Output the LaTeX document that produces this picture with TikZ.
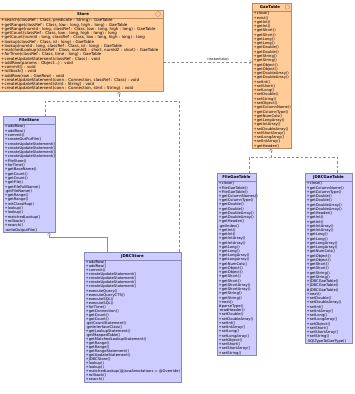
\documentclass[tikz,border=0pt]{standalone}
\usepackage{fontspec}
\setmainfont{DejaVu Sans}
\usetikzlibrary{arrows.meta}
\definecolor{ofill}{RGB}{255,204,153}
\definecolor{odraw}{RGB}{185,140,95}
\definecolor{bfill}{RGB}{204,204,255}
\definecolor{bdraw}{RGB}{135,135,185}
\definecolor{conn}{RGB}{140,140,140}
\tikzset{
 box/.style={draw, line width=0.45pt, inner sep=0pt, outer sep=0pt, anchor=north west},
 obox/.style={box, fill=ofill, draw=odraw},
 bbox/.style={box, fill=bfill, draw=bdraw},
 ttl/.style={font=\fontsize{3.9}{4}\selectfont\bfseries, inner sep=0pt},
 body/.style={font=\fontsize{3.7}{4.22}\selectfont, align=left, anchor=north west, inner sep=0pt},
 real/.style={draw=conn, line width=0.45pt, dash pattern=on 2.5pt off 2pt},
 inh/.style={draw=conn, line width=0.45pt},
 tri/.style={-{Triangle[open, length=3.2pt, width=3.6pt, fill=white]}},
 dep/.style={-{Straight Barb[length=2.2pt, width=3.4pt]}},
 icon/.style={draw=conn, line width=0.35pt},
}
\begin{document}
\begin{tikzpicture}[x=1pt,y=-1pt]
\useasboundingbox[fill=white] (0,0) rectangle (355,394);

% ---------- Store ----------
\node[obox, minimum width=164pt, minimum height=81pt] (store) at (-1,10) {};
\draw[odraw, line width=0.45pt] ([yshift=-8pt]store.north west) -- ([yshift=-8pt]store.north east);
\node[ttl] (storeT) at (83,14) {Store};
\draw[icon] (158,14) circle (2.5pt);
\node[body, font=\fontsize{4.0}{4.24}\selectfont] (storeB) at (1,18.7) {%
+search(classRef : Class, predicate : String) : GaeTable\\
+getRange(classRef : Class, low : long, high : long) : GaeTable\\
+getRange(numId : long, classRef : Class, low : long, high : long) : GaeTable\\
+getCount(classRef : Class, low : long, high : long) : long\\
+getCount(numId : long, classRef : Class, low : long, high : long) : long\\
+lookup(classRef : Class, id : long) : GaeTable\\
+lookup(numId : long, classRef : Class, id : long) : GaeTable\\
+matchedLookup(classRef : Class, numId1 : short, numId2 : short) : GaeTable\\
+forTime(classRef : Class, time : long) : GaeTable\\
+createUpdateStatement(classRef : Class) : void\\
+addRow(params : Object...) : void\\
+commit() : void\\
+rollback() : void\\
+addRow(row : GaeRow) : void\\
+createUpdateStatement(conn : Connection, classRef : Class) : void\\
+createUpdateStatement(stmt : String) : void\\
+createUpdateStatement(conn : Connection, stmt : String) : void};

% ---------- GaeTable ----------
\node[obox, minimum width=39pt, minimum height=145pt] (gae) at (252,3) {};
\draw[odraw, line width=0.45pt] ([yshift=-8pt]gae.north west) -- ([yshift=-8pt]gae.north east);
\node[ttl] (gaeT) at (270,7) {GaeTable};
\draw[icon] (287.3,7) circle (2.3pt);
\node[body, font=\fontsize{3.7}{4.27}\selectfont] (gaeB) at (253.5,11.8) {%
+close()\\ +exist()\\ +getInt()\\ +getInt()\\ +getShort()\\ +getShort()\\
+getLong()\\ +getLong()\\ +getDouble()\\ +getDouble()\\ +getString()\\
+getString()\\ +getObject()\\ +getObject()\\ +getDoubleArray()\\
+getDoubleArray()\\ +setInt()\\ +setShort()\\ +setLong()\\ +setDouble()\\
+setString()\\ +setObject()\\ +getColumnName()\\ +getColumnType()\\
+getNumCols()\\ +getLongArray()\\ +getIntArray()\\ +setDoubleArray()\\
+setShortArray()\\ +setLongArray()\\ +setIntArray()\\ +getHeader()};

% ---------- FileStore ----------
\node[bbox, minimum width=52pt, minimum height=116pt] (fs) at (3,116) {};
\draw[bdraw, line width=0.45pt] ([yshift=-8pt]fs.north west) -- ([yshift=-8pt]fs.north east);
\node[ttl] (fsT) at (29,120) {FileStore};
\node[body, font=\fontsize{3.7}{4.3}\selectfont] (fsB) at (4.5,124.8) {%
+addRow()\\ +addRow()\\ +commit()\\ +createOutPutFile()\\
+createUpdateStatement()\\ +createUpdateStatement()\\
+createUpdateStatement()\\ +createUpdateStatement()\\
+FileStore()\\ +forTime()\\ +getBaseName()\\ +getCount()\\ +getCount()\\
+getFile()\\ +getFileFullName()\\ -getFileName()\\ +getRange()\\
+getRange()\\ +initClassMap()\\ +lookup()\\ +lookup()\\
+matchedLookup()\\ +rollback()\\ +search()\\ -writeOutputFile()};

% ---------- JDBCStore ----------
\node[bbox, minimum width=97pt, minimum height=130pt] (jdbc) at (84,252) {};
\draw[bdraw, line width=0.45pt] ([yshift=-8pt]jdbc.north west) -- ([yshift=-8pt]jdbc.north east);
\node[ttl] (jdbcT) at (132.5,256) {JDBCStore};
\node[body, font=\fontsize{3.7}{4.03}\selectfont] (jdbcB) at (85.5,260.8) {%
+addRow()\\ +addRow()\\ +commit()\\ +createUpdateStatement()\\
+createUpdateStatement()\\ +createUpdateStatement()\\
+createUpdateStatement()\\ +executeQuery()\\ +executeQueryCTS()\\
+executeSQL()\\ +executeSQL()\\ +forTime()\\ +getConnection()\\
+getCount()\\ +getCount()\\ -getCountStatement()\\ -getInterfaceClass()\\
+getLookupStatement()\\ -getMappedTable()\\ +getMatchedLookupStatement()\\
+getRange()\\ +getRange()\\ +getRangeStatement()\\ +getUpdateStatement()\\
+JDBCStore()\\ +lookup()\\ +lookup()\\
+matchedLookup(@javaAnnotations = @Override)\\ +rollback()\\ +search()};

% ---------- FileGaeTable ----------
\node[bbox, minimum width=39pt, minimum height=182pt] (fgt) at (217,173) {};
\draw[bdraw, line width=0.45pt] ([yshift=-8pt]fgt.north west) -- ([yshift=-8pt]fgt.north east);
\node[ttl] (fgtT) at (236.5,177) {FileGaeTable};
\node[body, font=\fontsize{3.7}{4.23}\selectfont] (fgtB) at (218.5,181.8) {%
+close()\\ +FileGaeTable()\\ +FileGaeTable()\\ +getColumnNames()\\
+getColumnType()\\ +getDouble()\\ +getDouble()\\ +getDoubleArray()\\
+getDoubleArray()\\ +getHeader()\\ -getIndex()\\ +getInt()\\ +getInt()\\
+getIntArray()\\ +getIntArray()\\ +getLong()\\ +getLong()\\
+getLongArray()\\ +getLongArray()\\ +getNumCols()\\ +getObject()\\
+getObject()\\ +getShort()\\ +getShort()\\ +getShortArray()\\
+getShortArray()\\ +getString()\\ +getString()\\ +next()\\ \#parseType()\\
-readHeader()\\ +setDouble()\\ +setDoubleArray()\\ +setInt()\\
+setIntArray()\\ +setLong()\\ +setLongArray()\\ +setObject()\\
+setShort()\\ +setShortArray()\\ +setString()};

% ---------- JDBCGaeTable ----------
\node[bbox, minimum width=47pt, minimum height=170pt] (jgt) at (305,173) {};
\draw[bdraw, line width=0.45pt] ([yshift=-8pt]jgt.north west) -- ([yshift=-8pt]jgt.north east);
\node[ttl] (jgtT) at (328.5,177) {JDBCGaeTable};
\node[body, font=\fontsize{3.7}{4.25}\selectfont] (jgtB) at (306.5,181.8) {%
+close()\\ +getColumnName()\\ +getColumnType()\\ +getDouble()\\
+getDouble()\\ +getDoubleArray()\\ +getDoubleArray()\\ +getHeader()\\
+getInt()\\ +getInt()\\ +getIntArray()\\ +getIntArray()\\ +getLong()\\
+getLong()\\ +getLongArray()\\ +getLongArray()\\ +getNumCols()\\
+getObject()\\ +getObject()\\ +getShort()\\ +getShort()\\ +getString()\\
+getString()\\ +JDBCGaeTable()\\ +JDBCGaeTable()\\ \#JDBCGaeTable()\\
+next()\\ +setDouble()\\ +setDoubleArray()\\ +setInt()\\ +setIntArray()\\
+setLong()\\ +setLongArray()\\ +setObject()\\ +setShort()\\
+setShortArray()\\ +setString()\\ -SQLTypeToGaeType()};

% ---------- connectors ----------
\coordinate (j1) at (119,101);
\coordinate (j2) at (271,157);
\coordinate (k1) at (49,237);

% instantiate dependency
\draw[real, dep] (store.east |- 0,62) -- (gae.west |- 0,62);
\node[font=\fontsize{3.4}{4}\selectfont, inner sep=0pt] (inst) at (218,59.5) {<<instantiate>>};

% Store realizations
\draw[real, tri] (j1) -- (store.south -| j1);
\draw[real] (fs.north -| 45,0) |- (j1) -| ([xshift=-2pt]jdbc.north east);

% GaeTable realizations
\draw[real, tri] (j2) -- (gae.south -| j2);
\draw[real] ([xshift=12.5pt]fgt.north) |- (j2) -| ([xshift=8.5pt]jgt.north);

% JDBCStore extends FileStore
\draw[inh, tri] ([xshift=-25.5pt]jdbc.north) |- (k1) -- (fs.south -| k1);
\end{tikzpicture}
\end{document}
